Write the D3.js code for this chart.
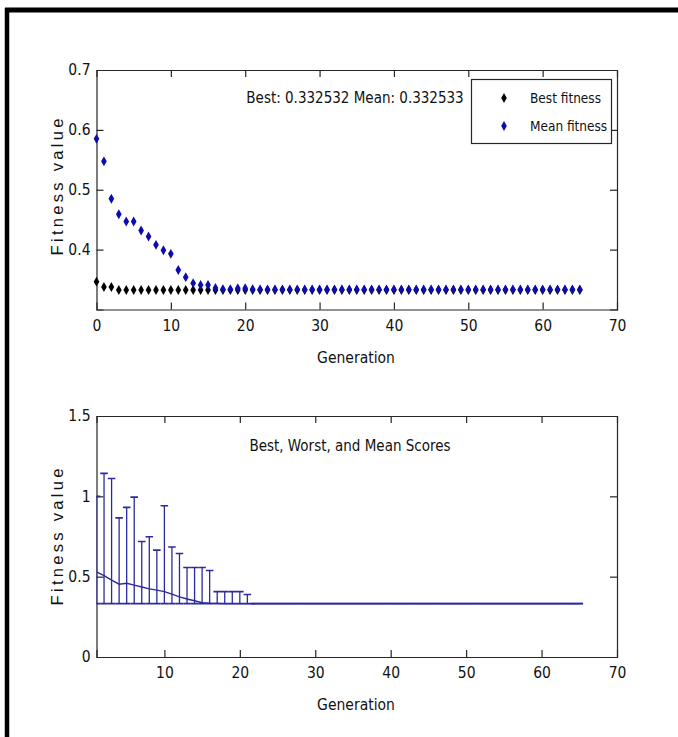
<!DOCTYPE html>
<html>
<head>
<meta charset="utf-8">
<script src="https://cdn.jsdelivr.net/npm/d3@7"></script>
<style>
  html, body { margin: 0; padding: 0; background: #fff; }
  svg { display: block; }
  .narrow { font-family: "DejaVu Sans Condensed", "Liberation Sans", sans-serif; font-stretch: condensed; }
</style>
</head>
<body>
<svg id="chart" width="678" height="737"></svg>
<script>
// ---------- data ----------
const topGenerations = d3.range(0, 66);
const bestFitness = [
  0.3465, 0.3375, 0.3375, 0.3325, 0.3325, 0.3325, 0.3325, 0.3325, 0.3325, 0.3325,
  0.3325, 0.3325, 0.3325, 0.3325, 0.3325, 0.3325, 0.3325, 0.3325, 0.3325, 0.3325,
  0.3325, 0.3325, 0.3325, 0.3325, 0.3325, 0.3325, 0.3325, 0.3325, 0.3325, 0.3325,
  0.3325, 0.3325, 0.3325, 0.3325, 0.3325, 0.3325, 0.3325, 0.3325, 0.3325, 0.3325,
  0.3325, 0.3325, 0.3325, 0.3325, 0.3325, 0.3325, 0.3325, 0.3325, 0.3325, 0.3325,
  0.3325, 0.3325, 0.3325, 0.3325, 0.3325, 0.3325, 0.3325, 0.3325, 0.3325, 0.3325,
  0.3325, 0.3325, 0.3325, 0.3325, 0.3325, 0.3325
];
const meanFitness = [
  0.585, 0.5475, 0.485, 0.459, 0.447, 0.447, 0.432, 0.422, 0.408, 0.399,
  0.393, 0.366, 0.354, 0.344, 0.341, 0.341, 0.336, 0.334, 0.334, 0.3355,
  0.3355, 0.334, 0.3335, 0.3335, 0.3335, 0.3335, 0.3335, 0.3335, 0.3335, 0.3335,
  0.3335, 0.3335, 0.3335, 0.3335, 0.3335, 0.3335, 0.3335, 0.3335, 0.3335, 0.3335,
  0.3335, 0.3335, 0.3335, 0.3335, 0.3335, 0.3335, 0.3335, 0.3335, 0.3335, 0.3335,
  0.3335, 0.3335, 0.3335, 0.3335, 0.3335, 0.3335, 0.3335, 0.3335, 0.3335, 0.3335,
  0.3335, 0.3335, 0.3335, 0.3335, 0.3335, 0.3335
];
const topTitle = "Best: 0.332532 Mean: 0.332533";
const legendLabels = ["Best fitness", "Mean fitness"];
const topXTicks = [0, 10, 20, 30, 40, 50, 60, 70];
const topYTicks = [0.4, 0.5, 0.6, 0.7];

const bottomGenerations = d3.range(1, 66);
const scoreBest = [
  0.3325, 0.3325, 0.3325, 0.3325, 0.3325, 0.3325, 0.3325, 0.3325, 0.3325, 0.3325,
  0.3325, 0.3325, 0.3325, 0.3325, 0.3325, 0.3325, 0.3325, 0.3325, 0.3325, 0.3325,
  0.3325, 0.3325, 0.3325, 0.3325, 0.3325, 0.3325, 0.3325, 0.3325, 0.3325, 0.3325,
  0.3325, 0.3325, 0.3325, 0.3325, 0.3325, 0.3325, 0.3325, 0.3325, 0.3325, 0.3325,
  0.3325, 0.3325, 0.3325, 0.3325, 0.3325, 0.3325, 0.3325, 0.3325, 0.3325, 0.3325,
  0.3325, 0.3325, 0.3325, 0.3325, 0.3325, 0.3325, 0.3325, 0.3325, 0.3325, 0.3325,
  0.3325, 0.3325, 0.3325, 0.3325, 0.3325
];
const scoreWorst = [
  1.0, 1.143, 1.111, 0.866, 0.931, 0.995, 0.719, 0.748, 0.665, 0.941,
  0.685, 0.644, 0.557, 0.557, 0.557, 0.538, 0.407, 0.407, 0.407, 0.407,
  0.389, 0.3325, 0.3325, 0.3325, 0.3325, 0.3325, 0.3325, 0.3325, 0.3325, 0.3325,
  0.3325, 0.3325, 0.3325, 0.3325, 0.3325, 0.3325, 0.3325, 0.3325, 0.3325, 0.3325,
  0.3325, 0.3325, 0.3325, 0.3325, 0.3325, 0.3325, 0.3325, 0.3325, 0.3325, 0.3325,
  0.3325, 0.3325, 0.3325, 0.3325, 0.3325, 0.3325, 0.3325, 0.3325, 0.3325, 0.3325,
  0.3325, 0.3325, 0.3325, 0.3325, 0.3325
];
const scoreMean = [
  0.53, 0.507, 0.478, 0.453, 0.459, 0.447, 0.436, 0.424, 0.416, 0.407,
  0.391, 0.374, 0.361, 0.35, 0.338, 0.335, 0.334, 0.3325, 0.3325, 0.3325,
  0.3325, 0.3325, 0.3325, 0.3325, 0.3325, 0.3325, 0.3325, 0.3325, 0.3325, 0.3325,
  0.3325, 0.3325, 0.3325, 0.3325, 0.3325, 0.3325, 0.3325, 0.3325, 0.3325, 0.3325,
  0.3325, 0.3325, 0.3325, 0.3325, 0.3325, 0.3325, 0.3325, 0.3325, 0.3325, 0.3325,
  0.3325, 0.3325, 0.3325, 0.3325, 0.3325, 0.3325, 0.3325, 0.3325, 0.3325, 0.3325,
  0.3325, 0.3325, 0.3325, 0.3325, 0.3325
];
const bottomTitle = "Best, Worst, and Mean Scores";
const bottomXTicks = [10, 20, 30, 40, 50, 60, 70];
const bottomYTicks = [0, 0.5, 1, 1.5];

const xLabel = "Generation";
const yLabel = "Fitness value";

// ---------- drawing ----------
const svg = d3.select("#chart");
const axisColor = "#262626";
const blackMarker = "#000000";
const blueMarker = "#0b0bb0";
const rangeColor = "#2b2b9e";
const tickLen = 7;
const fs = "15.5px";

// outer frame (left and top border of the figure)
svg.append("line").attr("x1", 7).attr("x2", 7).attr("y1", 8).attr("y2", 737)
  .attr("stroke", "#000").attr("stroke-width", 4.5);
svg.append("line").attr("x1", 5).attr("x2", 678).attr("y1", 10).attr("y2", 10)
  .attr("stroke", "#000").attr("stroke-width", 5);

const left = 96.5, right = 617;

function drawFrame(g, x, y, xTicks, yTicks, labelXTicks, labelYTicks) {
  const [x0, x1] = x.range();
  const [yb, yt] = y.range();
  const axB = d3.axisBottom(x).tickValues(labelXTicks).tickSize(-tickLen).tickPadding(10).tickFormat(d3.format("d"));
  const gB = g.append("g").attr("transform", `translate(0,${yb})`).call(axB);
  const axT = d3.axisTop(x).tickValues(xTicks).tickSize(-tickLen).tickFormat("");
  const gT = g.append("g").attr("transform", `translate(0,${yt})`).call(axT);
  const axL = d3.axisLeft(y).tickValues(labelYTicks).tickSize(-tickLen).tickPadding(6).tickFormat(d => d3.format("")(d));
  const gL = g.append("g").attr("transform", `translate(${x0},0)`).call(axL);
  const axR = d3.axisRight(y).tickValues(yTicks).tickSize(-tickLen).tickFormat("");
  const gR = g.append("g").attr("transform", `translate(${x1},0)`).call(axR);
  [gB, gT, gL, gR].forEach(a => {
    a.attr("font-family", null).attr("font-size", null);
    a.select(".domain").attr("stroke", axisColor).attr("stroke-width", 1.2);
    a.selectAll(".tick line").attr("stroke", axisColor).attr("stroke-width", 1.2);
    a.selectAll(".tick text").attr("fill", "#111").attr("class", "narrow").style("font-size", fs);
  });
  gB.selectAll(".tick line").attr("opacity", d => (d === x.domain()[0] || d === x.domain()[1]) ? 0 : 1);
  gL.selectAll(".tick line").attr("opacity", d => (d === y.domain()[0] || d === y.domain()[1]) ? 0 : 1);
  gB.selectAll(".tick text").attr("dy", "0.71em");
}

// ===== TOP PLOT =====
const xTop = d3.scaleLinear().domain([0, 70]).range([left, right]);
const yTop = d3.scaleLinear().domain([0.3, 0.7]).range([309.5, 70]);
const gTop = svg.append("g");
drawFrame(gTop, xTop, yTop, [10, 20, 30, 40, 50, 60], [0.4, 0.5, 0.6], topXTicks, topYTicks);

const diamond = d3.symbol().type(d3.symbolDiamond).size(28);
gTop.append("g").selectAll("path").data(topGenerations).join("path")
  .attr("d", diamond).attr("fill", blackMarker)
  .attr("transform", (d, i) => `translate(${xTop(d)},${yTop(bestFitness[i])})`);
gTop.append("g").selectAll("path").data(topGenerations).join("path")
  .attr("d", diamond).attr("fill", blueMarker)
  .attr("transform", (d, i) => `translate(${xTop(d)},${yTop(meanFitness[i])})`);

gTop.append("text").attr("class", "narrow").attr("x", 355).attr("y", 103)
  .attr("text-anchor", "middle").style("font-size", "15px").attr("fill", "#111").text(topTitle);

// legend
const lg = gTop.append("g");
lg.append("rect").attr("x", 471.5).attr("y", 79.5).attr("width", 140).attr("height", 64)
  .attr("fill", "#fff").attr("stroke", axisColor).attr("stroke-width", 1.2);
[blackMarker, blueMarker].forEach((c, i) => {
  lg.append("path").attr("d", diamond).attr("fill", c)
    .attr("transform", `translate(504,${98 + i * 28})`);
  lg.append("text").attr("class", "narrow").attr("x", 530).attr("y", 98 + i * 28 + 5)
    .style("font-size", "13.5px").attr("fill", "#111").text(legendLabels[i]);
});

gTop.append("text").attr("class", "narrow").attr("x", 356).attr("y", 363)
  .attr("text-anchor", "middle").style("font-size", fs).attr("fill", "#111").text(xLabel);
gTop.append("text").attr("transform", "translate(63,187) rotate(-90)")
  .attr("text-anchor", "middle").style("font-family", "'Liberation Sans', Arial, sans-serif")
  .style("font-size", "16.5px").attr("textLength", 137).attr("lengthAdjust", "spacing")
  .attr("fill", "#111").text(yLabel);

// ===== BOTTOM PLOT =====
const xBot = d3.scaleLinear().domain([1, 70]).range([left, right]);
const yBot = d3.scaleLinear().domain([0, 1.5]).range([657, 416]);
const gBot = svg.append("g");
drawFrame(gBot, xBot, yBot, [10, 20, 30, 40, 50, 60], [0.5, 1], bottomXTicks, bottomYTicks);

svg.append("clipPath").attr("id", "clipBot").append("rect")
  .attr("x", left).attr("y", 416).attr("width", right - left).attr("height", 657 - 416);
const gData = gBot.append("g").attr("clip-path", "url(#clipBot)");
const capHalf = (xBot(2) - xBot(1)) / 2;

gData.append("path").datum(bottomGenerations)
  .attr("d", d3.line().x(d => xBot(d)).y((d, i) => yBot(scoreMean[i])))
  .attr("fill", "none").attr("stroke", rangeColor).attr("stroke-width", 1.4);

const bars = gData.append("g").selectAll("g").data(bottomGenerations).join("g");
bars.append("line")
  .attr("x1", d => xBot(d)).attr("x2", d => xBot(d))
  .attr("y1", (d, i) => yBot(scoreBest[i])).attr("y2", (d, i) => yBot(scoreWorst[i]))
  .attr("stroke", rangeColor).attr("stroke-width", 1.3);
bars.append("line")
  .attr("x1", d => xBot(d) - capHalf).attr("x2", d => xBot(d) + capHalf)
  .attr("y1", (d, i) => yBot(scoreWorst[i])).attr("y2", (d, i) => yBot(scoreWorst[i]))
  .attr("stroke", rangeColor).attr("stroke-width", 1.6);
bars.append("line")
  .attr("x1", d => xBot(d) - capHalf).attr("x2", d => xBot(d) + capHalf)
  .attr("y1", (d, i) => yBot(scoreBest[i])).attr("y2", (d, i) => yBot(scoreBest[i]))
  .attr("stroke", rangeColor).attr("stroke-width", 1.6);

gBot.append("text").attr("class", "narrow").attr("x", 350).attr("y", 451)
  .attr("text-anchor", "middle").style("font-size", "15px").attr("fill", "#111").text(bottomTitle);
gBot.append("text").attr("class", "narrow").attr("x", 356).attr("y", 710)
  .attr("text-anchor", "middle").style("font-size", fs).attr("fill", "#111").text(xLabel);
gBot.append("text").attr("transform", "translate(63,537) rotate(-90)")
  .attr("text-anchor", "middle").style("font-family", "'Liberation Sans', Arial, sans-serif")
  .style("font-size", "16.5px").attr("textLength", 137).attr("lengthAdjust", "spacing")
  .attr("fill", "#111").text(yLabel);
</script>
</body>
</html>
